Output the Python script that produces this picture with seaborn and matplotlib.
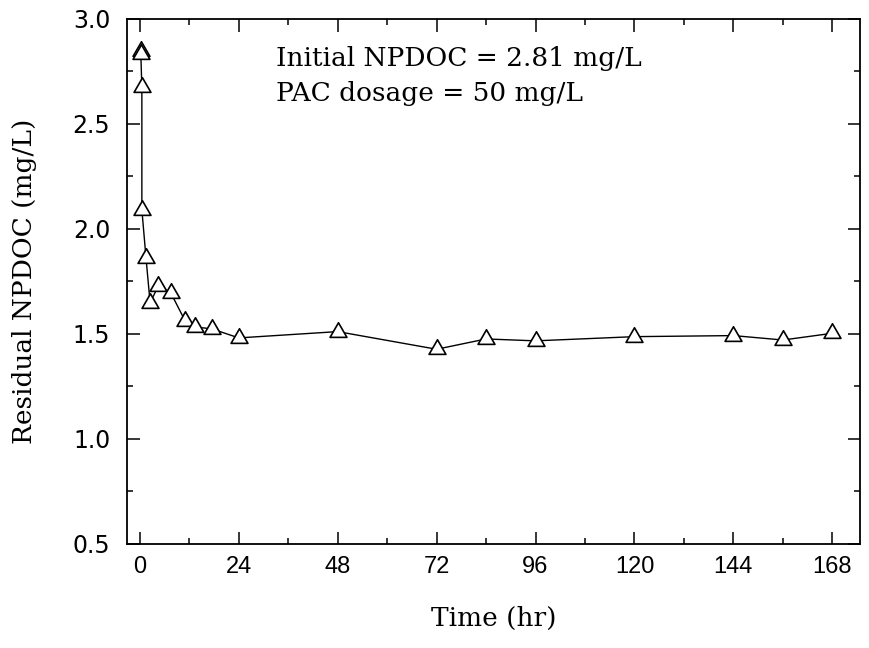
import pandas as pd
import matplotlib
matplotlib.use("Agg")
import matplotlib.pyplot as plt
import seaborn as sns
from matplotlib.path import Path
from matplotlib.ticker import MultipleLocator

# данные
time_hr = [0.25, 0.25, 0.5, 0.5, 1.5, 2.5, 4.5, 7.5, 11, 13.5, 17.5, 24,
           48, 72, 84, 96, 120, 144, 156, 168]
npdoc = [2.845, 2.831, 2.674, 2.092, 1.863, 1.648, 1.729, 1.696, 1.562, 1.533, 1.524, 1.481,
         1.511, 1.427, 1.476, 1.467, 1.487, 1.492, 1.471, 1.503]
x_ticks = [0, 24, 48, 72, 96, 120, 144, 168]
y_ticks = [0.5, 1.0, 1.5, 2.0, 2.5, 3.0]

df = pd.DataFrame({"time": time_hr, "npdoc": npdoc})

sns.set_theme(style="ticks")
plt.rcParams['font.family'] = ['DejaVu Serif']
plt.rcParams['text.color'] = 'black'
plt.rcParams['axes.labelcolor'] = 'black'
plt.rcParams['xtick.color'] = 'black'
plt.rcParams['ytick.color'] = 'black'

fig = plt.figure(figsize=(8.7, 6.48), dpi=100)
ax = fig.add_axes([0.146, 0.1605, 0.8425, 0.8105])

# равносторонний треугольник (замкнутый контур)
tri = Path([(0, 0.577), (-0.5, -0.289), (0.5, -0.289), (0, 0.577)], closed=True)

sns.lineplot(data=df, x="time", y="npdoc", ax=ax, estimator=None, sort=False,
             color="black", linewidth=1.0, marker=tri, markersize=14,
             markerfacecolor="white", markeredgecolor="black", markeredgewidth=1.2)

ax.set_xlim(-3.1, 174.7)
ax.set_ylim(0.5, 3.0)
ax.set_xticks(x_ticks)
ax.set_yticks(y_ticks)
ax.xaxis.set_minor_locator(MultipleLocator(12))
ax.yaxis.set_minor_locator(MultipleLocator(0.25))
ax.set_xticklabels([str(t) for t in x_ticks], family="Liberation Sans", fontsize=17)
ax.set_yticklabels([f"{v:.1f}" for v in y_ticks], family="DejaVu Sans", fontsize=17)

ax.tick_params(which="both", direction="in", top=True, right=True, width=1.1)
ax.tick_params(axis="x", pad=9)
ax.tick_params(axis="y", pad=12)
ax.tick_params(which="major", length=9)
ax.tick_params(which="minor", length=4.5)
for s in ax.spines.values():
    s.set_linewidth(1.3)
    s.set_color("black")

ax.set_xlabel("Time (hr)", fontsize=19, labelpad=20)
ax.set_ylabel("Residual NPDOC (mg/L)", fontsize=19, labelpad=26)

ax.text(33, 2.81, "Initial NPDOC = 2.81 mg/L", fontsize=19, va="center")
ax.text(33, 2.645, "PAC dosage = 50 mg/L", fontsize=19, va="center")

fig.savefig("out.png", dpi=100)
